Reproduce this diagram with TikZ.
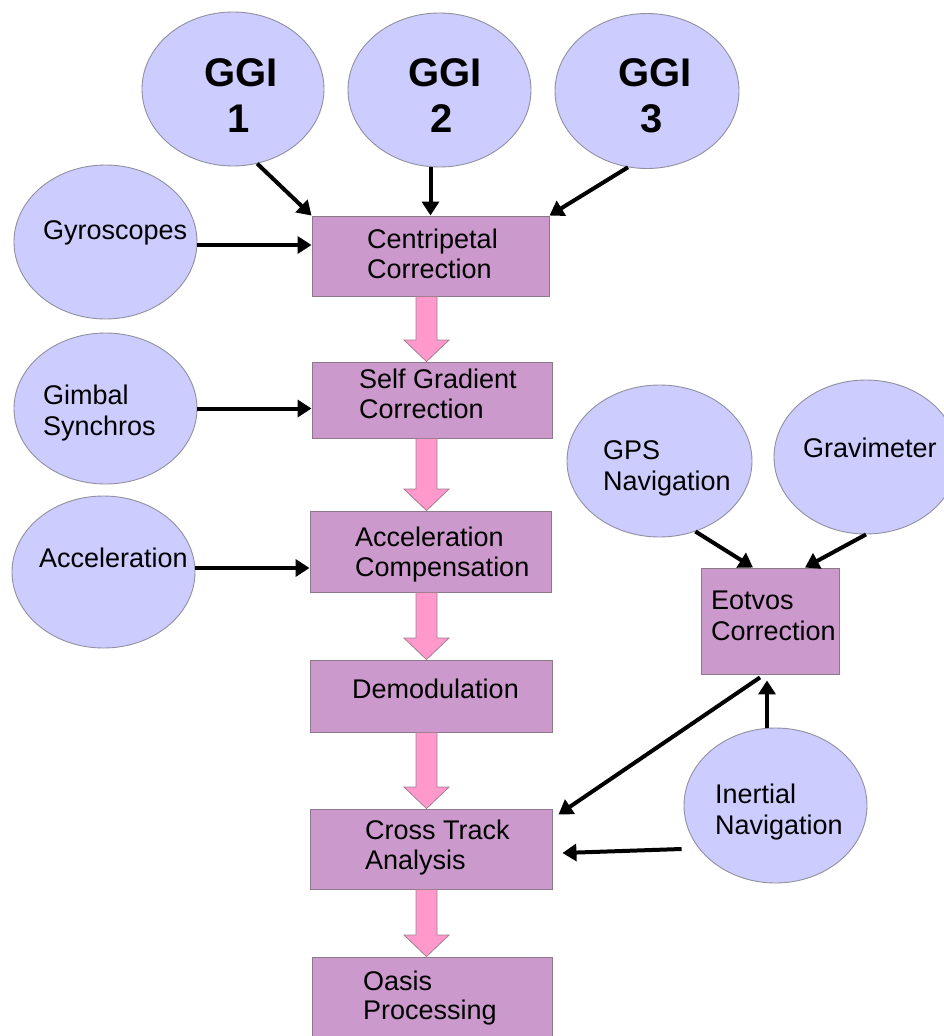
\documentclass[tikz,border=0pt]{standalone}
\usepackage{fontspec}
\setmainfont{Liberation Sans}
\usetikzlibrary{shapes.geometric,arrows.meta,calc}
\definecolor{ellfill}{HTML}{CCCCFF}
\definecolor{ellline}{HTML}{9090A0}
\definecolor{boxfill}{HTML}{CC99CC}
\definecolor{boxline}{HTML}{8C7A8C}
\definecolor{pinkfill}{HTML}{FF99CC}
\definecolor{pinkline}{HTML}{A08090}
\newcommand\pinkarrow[2]{\draw[fat] let \p1=(#1.south), \p2=(#2.north) in
 (416pt,\y1) -- (437pt,\y1) -- (437pt,\y2+21.5pt) -- (449pt,\y2+21.5pt) -- (426.5pt,\y2)
 -- (404pt,\y2+21.5pt) -- (416pt,\y2+21.5pt) -- cycle;}
\begin{document}
\begin{tikzpicture}[x=1pt,y=-1pt,
 ell/.style={ellipse,draw=ellline,fill=ellfill,line width=0.9pt,inner sep=0pt},
 procbox/.style={rectangle,draw=boxline,fill=boxfill,line width=0.9pt,inner sep=0pt},
 lbl/.style={anchor=base west,inner sep=0pt,font=\fontsize{27}{30}\selectfont},
 ggilbl/.style={anchor=base,inner sep=0pt,font=\fontsize{40}{46}\selectfont\bfseries},
 arr/.style={draw=black,line width=4pt,-{Triangle[length=14pt,width=17pt]}},
 fat/.style={draw=pinkline,fill=pinkfill,line width=0.8pt,line join=miter}]

\useasboundingbox (0,0) rectangle (944,1036);
\clip (0,0) rectangle (944,1036);
\fill[white] (0,0) rectangle (944,1036);

% ellipses
\node[ell,minimum width=182pt,minimum height=154pt] (g1) at (233,89) {};
\node[ell,minimum width=183pt,minimum height=154pt] (g2) at (439.5,90) {};
\node[ell,minimum width=184pt,minimum height=155pt] (g3) at (647,91) {};
\node[ell,minimum width=183pt,minimum height=154pt] (gyro) at (105.5,242) {};
\node[ell,minimum width=183pt,minimum height=151pt] (gimb) at (105.5,408.5) {};
\node[ell,minimum width=183pt,minimum height=152pt] (acc) at (103.5,572) {};
\node[ell,minimum width=185pt,minimum height=152pt] (gps) at (659.5,461) {};
\node[ell,minimum width=184pt,minimum height=154pt] (grav) at (866,457) {};
\node[ell,minimum width=183pt,minimum height=155pt] (ins) at (775.5,805.5) {};

% boxes
\node[procbox,minimum width=237pt,minimum height=80pt] (cent) at (430.5,256) {};
\node[procbox,minimum width=240pt,minimum height=76pt] (sg) at (432,400) {};
\node[procbox,minimum width=241pt,minimum height=81pt] (ac) at (430.5,551.5) {};
\node[procbox,minimum width=242pt,minimum height=72pt] (dem) at (431,696) {};
\node[procbox,minimum width=242pt,minimum height=80pt] (ct) at (431,849) {};
\node[procbox,minimum width=240pt,minimum height=88pt] (oas) at (432,1001) {};
\node[procbox,minimum width=138pt,minimum height=106pt] (eot) at (770,621) {};

% pink flow arrows
\pinkarrow{cent}{sg}
\pinkarrow{sg}{ac}
\pinkarrow{ac}{dem}
\pinkarrow{dem}{ct}
\pinkarrow{ct}{oas}

% black connectors
\draw[arr] (g1.-72) -- (cent.north west);
\draw[arr] (g2.south -| cent.north) -- (cent.north);
\draw[arr] (g3.-104) -- (cent.north east);
\coordinate (gyroe) at ([yshift=-3pt]gyro.east);
\draw[arr] (gyroe) -- (gyroe -| cent.west);
\draw[arr] (gimb.east) -- (gimb.east -| sg.west);
\coordinate (acce) at ([yshift=4pt]acc.east);
\draw[arr] (acce) -- (acce -| ac.west);
\draw[arr] (gps.-63) -- ([xshift=-17pt]eot.north);
\draw[arr] (grav.south) -- ([xshift=35pt]eot.north);
\coordinate (insn) at ([xshift=-8.5pt]ins.north);
\draw[arr,shorten >=6pt] (insn) -- (insn |- eot.south);
\draw[arr] ([xshift=-10pt,yshift=-3pt]eot.south) -- ([xshift=6pt,yshift=-6pt]ct.north east);
\draw[arr] ([xshift=-2pt,yshift=-43.5pt]ins.west) -- ([xshift=10pt,yshift=-4pt]ct.east);

% texts
\node[ggilbl] (g1a) at (241,86) {GGI};
\node[ggilbl] (g1b) at (239,132) {1};
\node[ggilbl] (g2a) at (445,86) {GGI};
\node[ggilbl] (g2b) at (442,132) {2};
\node[ggilbl] (g3a) at (655,86) {GGI};
\node[ggilbl] (g3b) at (652,132) {3};

\node[lbl] (tgyro) at (43,239) {Gyroscopes};
\node[lbl] (tgimba) at (43,404) {Gimbal};
\node[lbl] (tgimbb) at (43,435) {Synchros};
\node[lbl] (tacc) at (39,567) {Acceleration};
\node[lbl] (tcenta) at (367,248) {Centripetal};
\node[lbl] (tcentb) at (367,278) {Correction};
\node[lbl] (tsga) at (359,388) {Self Gradient};
\node[lbl] (tsgb) at (359,418) {Correction};
\node[lbl] (taca) at (355,546) {Acceleration};
\node[lbl] (tacb) at (355,576) {Compensation};
\node[lbl] (tdem) at (352,698) {Demodulation};
\node[lbl] (tcta) at (365,839) {Cross Track};
\node[lbl] (tctb) at (365,869) {Analysis};
\node[lbl] (toasa) at (363,990) {Oasis};
\node[lbl] (toasb) at (363,1019) {Processing};
\node[lbl] (teota) at (711,609) {Eotvos};
\node[lbl] (teotb) at (711,640) {Correction};
\node[lbl] (tgpsa) at (603,459) {GPS};
\node[lbl] (tgpsb) at (603,490) {Navigation};
\node[lbl] (tgrav) at (803,457) {Gravimeter};
\node[lbl] (tinsa) at (715,803) {Inertial};
\node[lbl] (tinsb) at (715,834) {Navigation};
\end{tikzpicture}
\end{document}
